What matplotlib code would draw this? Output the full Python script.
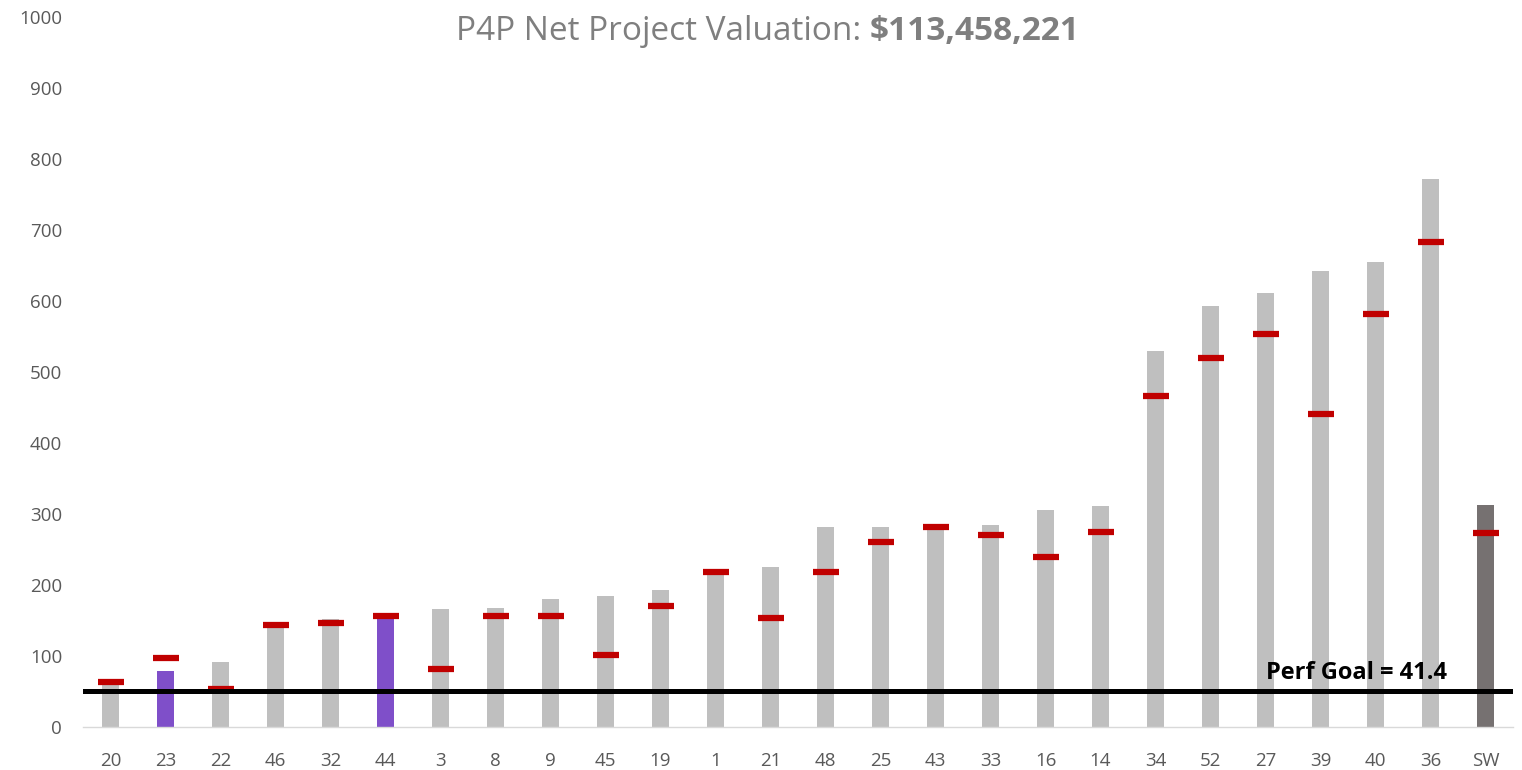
import matplotlib
matplotlib.use("Agg")
import matplotlib.pyplot as plt
import numpy as np

plt.rcParams['font.family'] = ['Open Sans', 'DejaVu Sans']

categories = ["20", "23", "22", "46", "32", "44", "3", "8", "9", "45", "19", "1", "21",
              "48", "25", "43", "33", "16", "14", "34", "52", "27", "39", "40", "36", "SW"]
bar_values = [62, 79, 92, 145, 152, 155, 166, 168, 180, 185, 193, 216, 225,
              281, 281, 281, 285, 305, 311, 529, 593, 611, 642, 655, 772, 312]
marker_values = [63, 97, 53, 144, 147, 156, 82, 157, 156, 102, 170, 218, 154,
                 219, 261, 282, 271, 239, 275, 466, 520, 553, 441, 582, 683, 273]
highlight = ["23", "44"]
goal_line = 51
goal_label = "Perf Goal = 41.4"
title_plain = "P4P Net Project Valuation: "
title_bold = "$113,458,221"

fig = plt.figure(figsize=(15.22, 7.70), dpi=100)
ax = fig.add_axes([83/1522, 1-727/770, (1513-83)/1522, (727-17)/770])

x = np.arange(len(categories))
colors = []
for c in categories:
    if c == "SW":
        colors.append("#767171")
    elif c in highlight:
        colors.append("#7F4FC9")
    else:
        colors.append("#BFBFBF")
ax.bar(x, bar_values, width=0.31, color=colors, zorder=2)
ax.plot(x, marker_values, linestyle='none', marker='_', markersize=19,
        markeredgewidth=4.5, color='#C00000', zorder=3)
ax.axhline(goal_line, color='black', linewidth=3.6, zorder=4)
ax.text(24.3, goal_line + 8, goal_label, ha='right', va='bottom',
        fontsize=17, fontweight='bold', color='black', zorder=5)

ax.set_xlim(-0.5, len(categories) - 0.5)
ax.set_ylim(0, 1000)
ax.set_yticks(np.arange(0, 1001, 100))
ax.set_xticks(x)
ax.set_xticklabels(categories)
ax.tick_params(axis='both', length=0, labelsize=13.5, colors='#595959')
ax.tick_params(axis='x', pad=18)
ax.tick_params(axis='y', pad=15)
for s in ['top', 'right', 'left']:
    ax.spines[s].set_visible(False)
ax.spines['bottom'].set_color('#D9D9D9')
ax.spines['bottom'].set_linewidth(1)

split = 870/1522
fig.text(split, 1-31/770, title_plain, ha='right', va='center', fontsize=24, color='#7F7F7F')
fig.text(split, 1-31/770, title_bold, ha='left', va='center', fontsize=24,
         fontweight='bold', color='#7F7F7F')

fig.savefig("out.png", dpi=100)
